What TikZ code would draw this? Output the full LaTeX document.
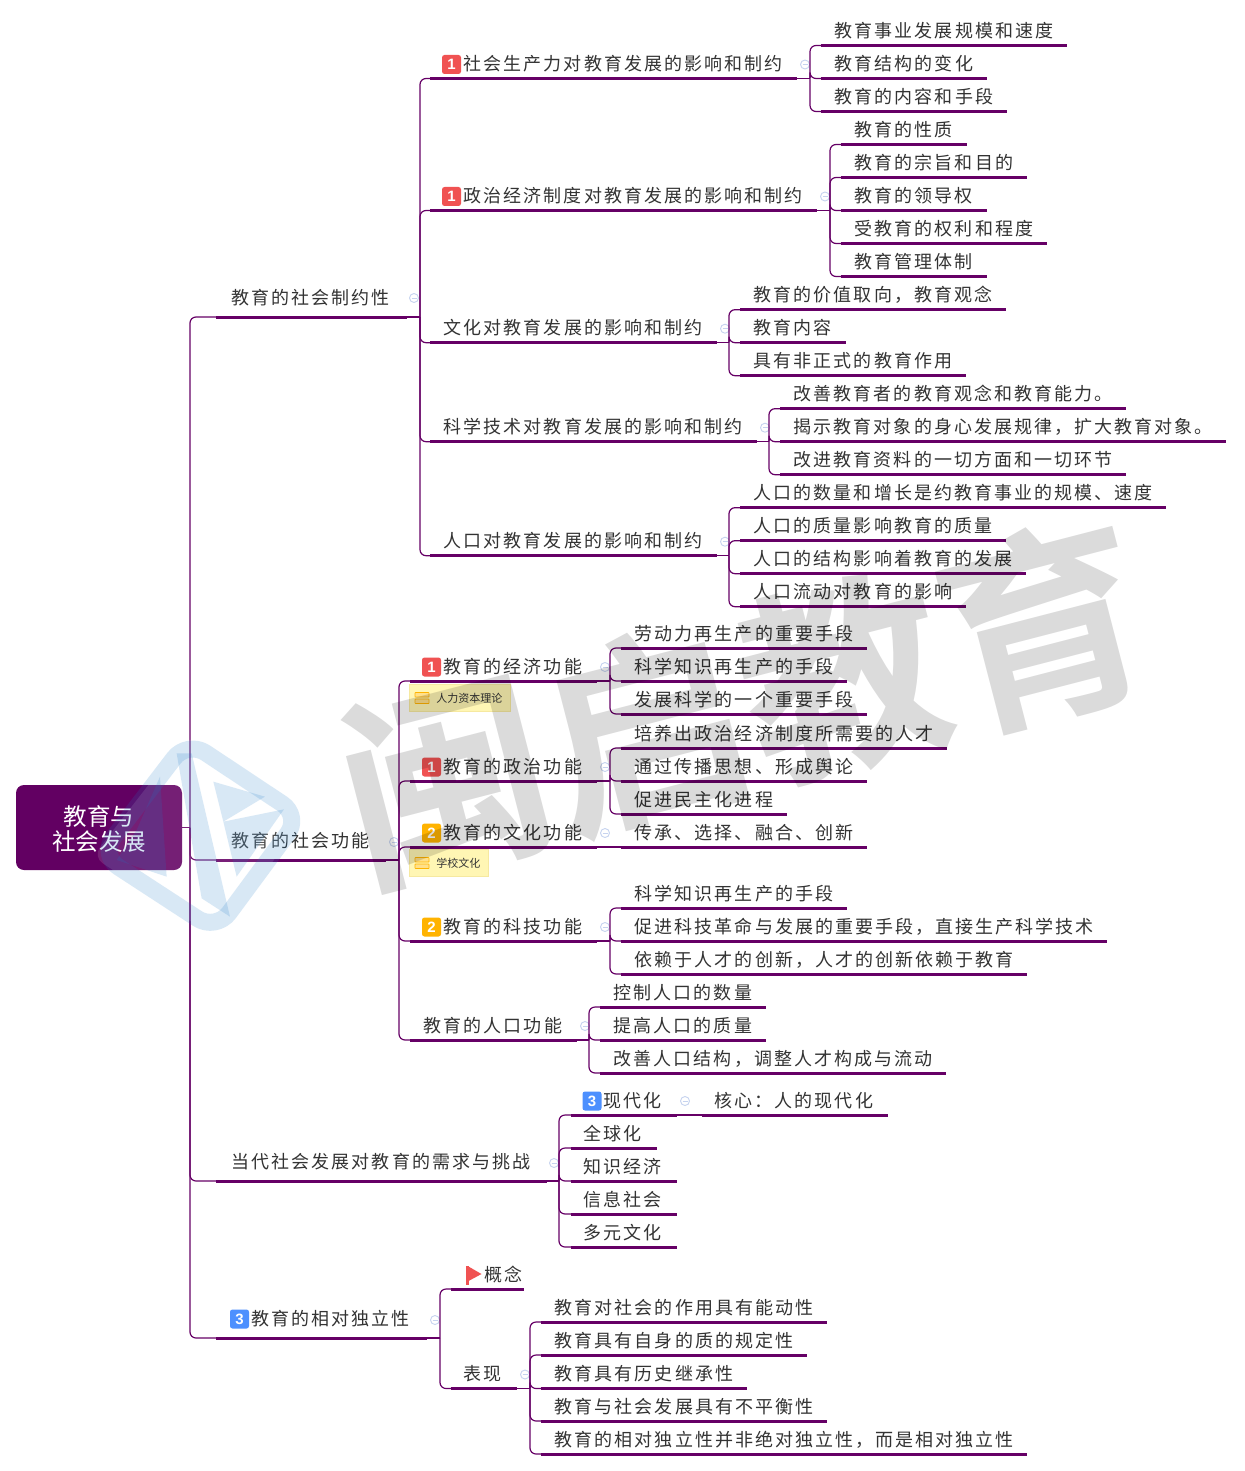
\documentclass[tikz,border=0pt]{standalone}
\usepackage{fontspec}
\setmainfont{Noto Sans CJK SC}
\newfontfamily\cjktxt[LetterSpace=11.2]{Noto Sans CJK SC}
\newfontfamily\cjkplain{Noto Sans CJK SC}
\newfontfamily\cjkbold{Noto Sans CJK SC Bold}
\newfontfamily\digitfont{Liberation Sans Bold}
\definecolor{mainpurple}{HTML}{660066}
\definecolor{txt}{HTML}{333333}
\definecolor{rootfill}{HTML}{620062}
\definecolor{notefill}{HTML}{FFF6B4}
\definecolor{noteline}{HTML}{F6E9A0}
\definecolor{redbadge}{HTML}{F05252}
\definecolor{orangebadge}{HTML}{FFB300}
\definecolor{bluebadge}{HTML}{4D90FE}
\definecolor{ctrl}{HTML}{C6D3EF}
\definecolor{logoblue}{HTML}{1B7AC8}
\definecolor{noteicofill}{HTML}{FFE08A}
\tikzset{
  topic/.style={inner sep=0pt,outer sep=0pt,anchor=south west,text=txt,align=left,
    font=\cjktxt\fontsize{18}{20}\selectfont,text height=16pt,text depth=3pt},
  uline/.style={line width=3pt,color=mainpurple},
  link/.style={line width=1.2pt,color=mainpurple,rounded corners=6pt},
  badge/.style={rounded corners=2.5pt,minimum size=19pt,inner sep=0pt,text=white,
    font=\digitfont\fontsize{15}{15}\selectfont},
  ctrlbtn/.style={circle,draw=ctrl,line width=.9pt,minimum size=9pt,inner sep=0pt,
    path picture={\draw[ctrl,line width=.9pt] ([xshift=2pt]path picture bounding box.west)--([xshift=-2pt]path picture bounding box.east);}},
  rootbox/.style={fill=rootfill,rounded corners=8pt,minimum width=166pt,minimum height=85pt,
    text=white,align=center,inner sep=0pt,font=\cjkplain\fontsize{23.5}{25}\selectfont},
  notebox/.style={fill=notefill,draw=noteline,line width=.8pt,inner sep=0pt,minimum height=27pt,
    anchor=north west,text=txt,font=\cjkplain\fontsize{11}{12}\selectfont},
  x=1pt,y=-1pt
}
% name, x1, x2, y, inset, text, node height
\newcommand{\tn}[7]{%
  \pgfmathsetmacro\tnw{#3-#2}%
  \node[topic,minimum height=#7pt,text width=\tnw pt] (#1) at (#2,#4) {\hspace*{\dimexpr#5pt-0.1pt\relax}#6};%
  \draw[uline] (#1.south west) -- (#1.south east);}
\newcommand{\lf}[6]{\tn{#1}{#2}{#3}{#4}{#5}{#6}{29}}
\newcommand{\badgeat}[4]{\node[badge,fill=#3] (#1-b) at ([xshift=#2pt,yshift=14pt]#1.south west) {#4};}
\newcommand{\cb}[2]{\node[ctrlbtn] (#1-c) at ([xshift=8pt,yshift=#2pt]#1.south east) {};}
% junction: parent, trunk x
\newcommand{\jn}[2]{\coordinate (#1-j) at (#2,0 |- #1.south east);\draw[link] (#1.south east) -- (#1-j);}
\newcommand{\br}[2]{\foreach \c in {#2}{\draw[link] (#1-j) -- (#1-j |- \c.south west) -- (\c.south west);}}
\newcommand{\noteicon}[2]{%
  \draw[orangebadge,fill=noteicofill,line width=.7pt,rounded corners=.5pt] (#1,#2) rectangle ++(14,-4.5);
  \draw[orangebadge,fill=noteicofill,line width=.7pt,rounded corners=.5pt] (#1,#2+6.5) rectangle ++(14,-4.5);}
\begin{document}
\begin{tikzpicture}
\useasboundingbox (0,0) rectangle (1244,1471);
\fill[white] (0,0) rectangle (1244,1471);

% root
\node[rootbox] (root) at (99,827.5) {\rule{0pt}{22pt}教育与\\社会发展};

% level 1
\tn{a}{216}{407}{317}{16}{教育的社会制约性}{39}
\tn{b}{216}{386}{860}{16}{教育的社会功能}{39}
\tn{c}{216}{547}{1181}{16}{当代社会发展对教育的需求与挑战}{39}
\tn{d}{216}{427}{1338}{36}{教育的相对独立性}{39}
\node[badge,fill=bluebadge] (d-b) at ([xshift=23.5pt,yshift=19pt]d.south west) {3};
\node[ctrlbtn] (a-c) at (414,298) {};
\node[ctrlbtn] (b-c) at (394,842) {};
\node[ctrlbtn] (c-c) at (554,1163) {};
\node[ctrlbtn] (d-c) at (435,1320) {};

% branch a
\lf{a1}{430}{797}{78.5}{34}{社会生产力对教育发展的影响和制约}
\lf{a2}{430}{817}{210.5}{34}{政治经济制度对教育发展的影响和制约}
\lf{a3}{430}{717}{342.7}{14}{文化对教育发展的影响和制约}
\lf{a4}{430}{757}{441.7}{14}{科学技术对教育发展的影响和制约}
\lf{a5}{430}{717}{555.7}{14}{人口对教育发展的影响和制约}
\badgeat{a1}{21.5}{redbadge}{1}
\badgeat{a2}{21.5}{redbadge}{1}
\cb{a1}{14}\cb{a2}{14}\cb{a3}{14}\cb{a4}{14}\cb{a5}{14}

\lf{a11}{821}{1067}{45.5}{14}{教育事业发展规模和速度}
\lf{a12}{821}{987}{78.5}{14}{教育结构的变化}
\lf{a13}{821}{1007}{111.5}{14}{教育的内容和手段}

\lf{a21}{841}{967}{144.5}{14}{教育的性质}
\lf{a22}{841}{1027}{177.5}{14}{教育的宗旨和目的}
\lf{a23}{841}{987}{210.5}{14}{教育的领导权}
\lf{a24}{841}{1047}{243.5}{14}{受教育的权利和程度}
\lf{a25}{841}{987}{276.5}{14}{教育管理体制}

\lf{a31}{740}{1006}{309.7}{14}{教育的价值取向，教育观念}
\lf{a32}{740}{846}{342.7}{14}{教育内容}
\lf{a33}{740}{966}{375.7}{14}{具有非正式的教育作用}

\lf{a41}{780}{1126}{408.7}{14}{改善教育者的教育观念和教育能力。}
\lf{a42}{780}{1226}{441.7}{14}{揭示教育对象的身心发展规律，扩大教育对象。}
\lf{a43}{780}{1126}{474.7}{14}{改进教育资料的一切方面和一切环节}

\lf{a51}{740}{1166}{507.7}{14}{人口的数量和增长是约教育事业的规模、速度}
\lf{a52}{740}{1006}{540.7}{14}{人口的质量影响教育的质量}
\lf{a53}{740}{1026}{573.7}{14}{人口的结构影响着教育的发展}
\lf{a54}{740}{966}{606.7}{14}{人口流动对教育的影响}

% branch b
\lf{b1}{410}{597}{681}{34}{教育的经济功能}
\lf{b2}{410}{597}{781}{34}{教育的政治功能}
\lf{b3}{410}{597}{847}{34}{教育的文化功能}
\lf{b4}{410}{597}{941}{34}{教育的科技功能}
\lf{b5}{410}{577}{1040}{14}{教育的人口功能}
\badgeat{b1}{21.5}{redbadge}{1}
\badgeat{b2}{21.5}{redbadge}{1}
\badgeat{b3}{21.5}{orangebadge}{2}
\badgeat{b4}{21.5}{orangebadge}{2}
\cb{b1}{14}\cb{b2}{14}\cb{b3}{14}\cb{b4}{14}\cb{b5}{14}

\node[notebox,minimum width=101pt] (n1) at (409,684) {\hspace*{26pt}人力资本理论\hspace*{7pt}};
\noteicon{415}{697}
\node[notebox,minimum width=79pt] (n2) at (409,849) {\hspace*{26pt}学校文化\hspace*{7pt}};
\noteicon{415}{862}

\lf{b11}{621}{867}{648}{14}{劳动力再生产的重要手段}
\lf{b12}{621}{847}{681}{14}{科学知识再生产的手段}
\lf{b13}{621}{867}{714}{14}{发展科学的一个重要手段}
\lf{b21}{621}{947}{748}{14}{培养出政治经济制度所需要的人才}
\lf{b22}{621}{867}{781}{14}{通过传播思想、形成舆论}
\lf{b23}{621}{787}{814}{14}{促进民主化进程}
\lf{b31}{621}{867}{847}{14}{传承、选择、融合、创新}
\lf{b41}{621}{847}{908}{14}{科学知识再生产的手段}
\lf{b42}{621}{1107}{941}{14}{促进科技革命与发展的重要手段，直接生产科学技术}
\lf{b43}{621}{1027}{974}{14}{依赖于人才的创新，人才的创新依赖于教育}
\lf{b51}{600}{766}{1007}{14}{控制人口的数量}
\lf{b52}{600}{766}{1040}{14}{提高人口的质量}
\lf{b53}{600}{946}{1073}{14}{改善人口结构，调整人才构成与流动}

% branch c
\lf{c1}{571}{677}{1115}{33}{现代化}
\badgeat{c1}{21}{bluebadge}{3}
\cb{c1}{14}
\lf{c11}{702}{888}{1115}{13}{核心：人的现代化}
\lf{c2}{571}{657}{1148}{13}{全球化}
\lf{c3}{571}{677}{1181}{13}{知识经济}
\lf{c4}{571}{677}{1214}{13}{信息社会}
\lf{c5}{571}{677}{1247}{13}{多元文化}

% branch d
\lf{d1}{451}{524}{1289}{34}{概念}
\fill[redbadge] (466,1266) rectangle (468.5,1285);
\fill[redbadge] (468.5,1266.5) -- (481.5,1274) -- (468.5,1281) -- cycle;
\lf{d2}{451}{517}{1388.5}{13}{表现}
\cb{d2}{14}
\lf{d21}{541}{827}{1322}{14}{教育对社会的作用具有能动性}
\lf{d22}{541}{807}{1355}{14}{教育具有自身的质的规定性}
\lf{d23}{541}{747}{1388.5}{14}{教育具有历史继承性}
\lf{d24}{541}{827}{1421}{14}{教育与社会发展具有不平衡性}
\lf{d25}{541}{1027}{1454}{14}{教育的相对独立性并非绝对独立性，而是相对独立性}

% connectors
\coordinate (root-j) at (190,827.5);
\draw[link] (root.east) -- (root-j);
\br{root}{a,b,c,d}
\jn{a}{420}\br{a}{a1,a2,a3,a4,a5}
\jn{a1}{810}\br{a1}{a11,a12,a13}
\jn{a2}{830}\br{a2}{a21,a22,a23,a24,a25}
\jn{a3}{729}\br{a3}{a31,a32,a33}
\jn{a4}{769}\br{a4}{a41,a42,a43}
\jn{a5}{729}\br{a5}{a51,a52,a53,a54}
\jn{b}{399}\br{b}{b1,b2,b3,b4,b5}
\jn{b1}{610}\br{b1}{b11,b12,b13}
\jn{b2}{610}\br{b2}{b21,b22,b23}
\draw[link] (b3.south east) -- (b31.south west);
\jn{b4}{610}\br{b4}{b41,b42,b43}
\jn{b5}{589}\br{b5}{b51,b52,b53}
\jn{c}{559}\br{c}{c1,c2,c3,c4,c5}
\draw[link] (c1.south east) -- (c11.south west);
\jn{d}{440}\br{d}{d1,d2}
\jn{d2}{530}\br{d2}{d21,d22,d23,d24,d25}

% watermark text
\node[rotate=14.5,text=black,opacity=.14,inner sep=0pt,font=\cjkbold\fontsize{206}{206}\selectfont] (wm) at (744,702) {闽启教育};

% watermark logo (pixel coordinates = zoom/3 + origin)
\begin{scope}[shift={(80,720)},x=.3333pt,y=-.3333pt]
  \fill[white,opacity=.12,rounded corners=12pt] (322,45)--(680,285)--(410,655)--(38,410)--cycle;
  \draw[logoblue,opacity=.17,line width=17pt,line join=round,rounded corners=22pt] (322,62)--(662,288)--(408,632)--(60,405)--cycle;
  \begin{scope}[opacity=.17]
    \fill[logoblue] (290,100)--(335,100)--(450,590)--(365,535)--cycle;
    \fill[logoblue] (400,185)--(555,230)--(430,305)--cycle;
    \fill[logoblue] (430,305)--(612,268)--(470,470)--cycle;
    \fill[logoblue] (240,170)--(260,470)--(110,420)--(170,330)--cycle;
  \end{scope}
\end{scope}
\end{tikzpicture}
\end{document}
